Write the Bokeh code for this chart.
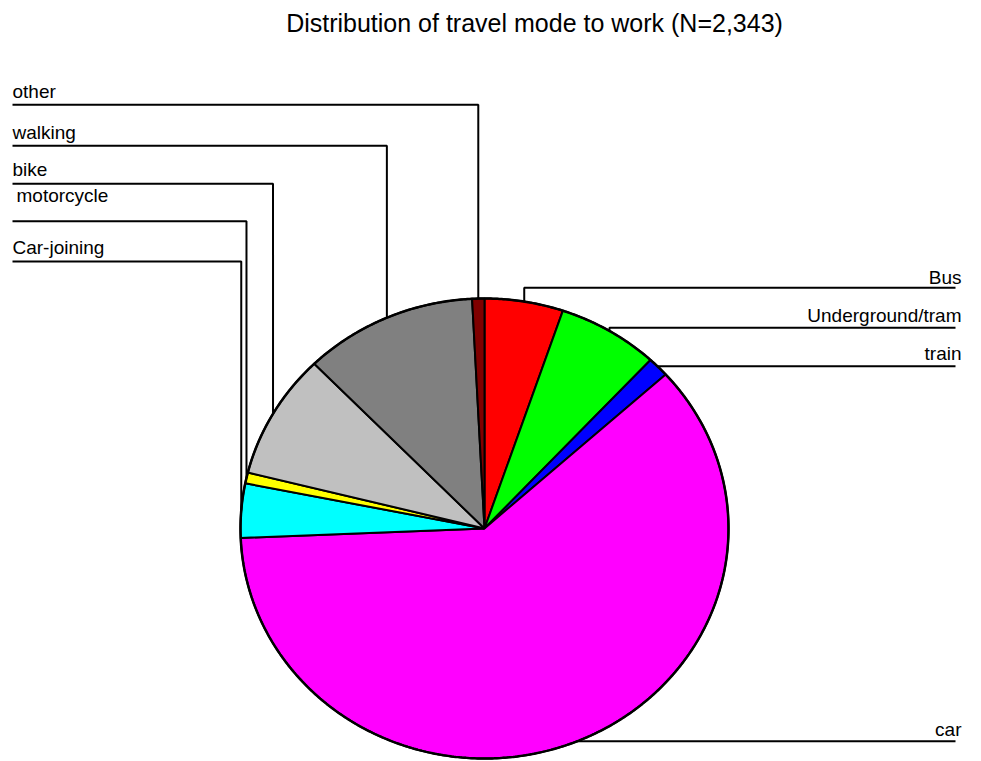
import numpy as np
from bokeh.plotting import figure
from bokeh.models import Range1d
from bokeh.embed import file_html
from bokeh.resources import INLINE
from bokeh.core.properties import value

# ---- data ----
modes = ["Bus", "Underground/tram", "train", "car", "Car-joining",
         "motorcycle", "bike", "walking", "other"]
counts = [122, 157, 33, 1430, 89, 18, 206, 269, 19]
colors = ["#FF0000", "#00FF00", "#0000FF", "#FF00FF", "#00FFFF",
          "#FFFF00", "#C0C0C0", "#808080", "#800000"]
label_texts = ["Bus", "Underground/tram", "train", "car", "Car-joining",
               "motorcycle", "bike", "walking", "other"]
title = "Distribution of travel mode to work (N=2,343)"

# ---- layout (pixel space) ----
W, H = 965, 761
cx, cy, rx, ry = 484, 528, 244, 230
line_y = {"Bus": 287.3, "Underground/tram": 327.3, "train": 365.7, "car": 740.7,
          "Car-joining": 261, "motorcycle": 220.7, "bike": 183.3,
          "walking": 145.3, "other": 104.3}
text_y = {"Bus": 276.7, "Underground/tram": 315, "train": 353.3, "car": 729.3,
          "Car-joining": 247.3, "motorcycle": 195, "bike": 169,
          "walking": 132, "other": 90.7}
text_x_left = {"Car-joining": 12, "motorcycle": 16, "bike": 12, "walking": 12, "other": 12}
right_side = {"Bus", "Underground/tram", "train", "car"}
left_x, right_x, right_text_x = 12, 955, 961

p = figure(width=W, height=H, output_backend="svg", toolbar_location=None,
           x_range=Range1d(0, W), y_range=Range1d(H, 0), min_border=0)
p.axis.visible = False
p.grid.visible = False
p.outline_line_color = None
p.background_fill_color = "white"

total = float(sum(counts))
fracs = np.array(counts) / total
ends = np.cumsum(fracs) * 2 * np.pi
starts = ends - fracs * 2 * np.pi

xs, ys = [], []
for a0, a1 in zip(starts, ends):
    t = np.linspace(a0, a1, max(4, int((a1 - a0) * 120)))
    xs.append([cx] + list(cx + rx * np.sin(t)) + [cx])
    ys.append([cy] + list(cy - ry * np.cos(t)) + [cy])

p.patches(xs=xs, ys=ys, fill_color=colors, line_color="black", line_width=2)
tt = np.linspace(0, 2 * np.pi, 720)
p.line(cx + rx * np.sin(tt), cy - ry * np.cos(tt), line_color="black", line_width=2.5)

# leader lines
lx, ly = [], []
for m, a0, a1 in zip(modes, starts, ends):
    mid = (a0 + a1) / 2
    ex = cx + rx * np.sin(mid)
    ey = cy - ry * np.cos(mid)
    yl = line_y[m]
    lx.append([ex, ex, right_x if m in right_side else left_x])
    ly.append([ey, yl, yl])
p.multi_line(xs=lx, ys=ly, line_color="black", line_width=2)

# labels
lab = dict(zip(modes, label_texts))
rt = [m for m in modes if m in right_side]
lt = [m for m in modes if m not in right_side]
p.text(x=[right_text_x] * len(rt), y=[text_y[m] for m in rt], text=[lab[m] for m in rt],
       text_align="right", text_baseline="middle", text_font=value("Liberation Sans"),
       text_font_size="19px", text_color="black")
p.text(x=[text_x_left[m] for m in lt], y=[text_y[m] for m in lt], text=[lab[m] for m in lt],
       text_align="left", text_baseline="middle", text_font=value("Liberation Sans"),
       text_font_size="19px", text_color="black")

p.text(x=[534], y=[22], text=[title], text_align="center", text_baseline="middle",
       text_font=value("Liberation Sans"), text_font_size="25px", text_color="black")

open("out.html", "w").write(file_html(p, INLINE))
